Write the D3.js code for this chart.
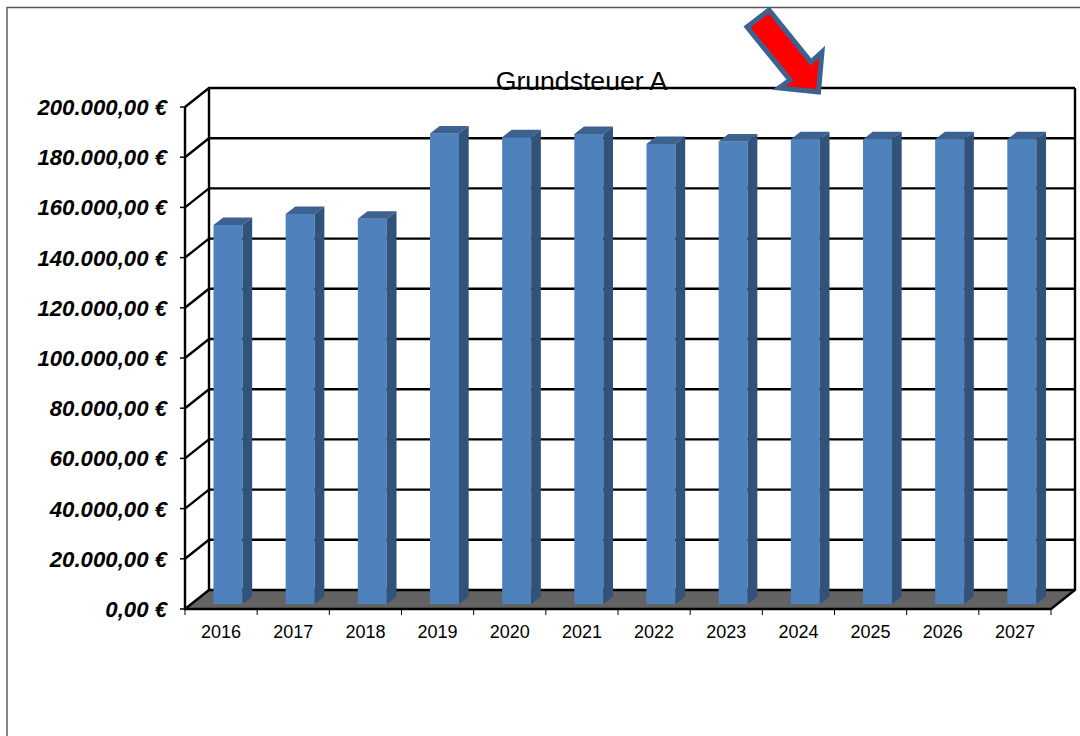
<!DOCTYPE html>
<html><head><meta charset="utf-8"><script src="https://cdn.jsdelivr.net/npm/d3@7"></script>
<style>html,body{margin:0;padding:0;background:#fff}svg{display:block}text{font-family:"Liberation Sans",Arial,sans-serif}</style></head>
<body><svg id="c" width="1080" height="736"></svg>
<script>
const years=["2016","2017","2018","2019","2020","2021","2022","2023","2024","2025","2026","2027"];
const values=[151000,155400,153500,187500,186000,187300,183300,184300,185200,185200,185200,185200];
const yTicks=[0,20000,40000,60000,80000,100000,120000,140000,160000,180000,200000];
const title="Grundsteuer A";
const depthX=24,depthY=19;
const svg=d3.select("#c");
const y=d3.scaleLinear().domain([0,200000]).range([609,107]);
const x=d3.scaleBand().domain(years).range([185,1051]);
const fmt=d3.formatLocale({decimal:",",thousands:".",grouping:[3],currency:["","\u00a0€"]}).format(",.2f");
svg.append("path").attr("d","M7,736V7.5H1080").attr("fill","none").attr("stroke","#555").attr("stroke-width",1.4);
svg.append("path").attr("d",`M${x.range()[0]},${y(0)}L${x.range()[0]+depthX},${y(0)-depthY}H${x.range()[1]+depthX}L${x.range()[1]},${y(0)}Z`).attr("fill","#636363");
const g=svg.append("g").attr("fill","none").attr("stroke","#000").attr("stroke-width",2.4);
yTicks.forEach(t=>{
  const yy=y(t);
  g.append("path").attr("d",`M${x.range()[0]},${yy}L${x.range()[0]+depthX},${yy-depthY}H${x.range()[1]+depthX}`);
  g.append("line").attr("x1",x.range()[0]-5).attr("x2",x.range()[0]).attr("y1",yy).attr("y2",yy).attr("stroke-width",1.5);
});
g.append("path").attr("d",`M${x.range()[0]},${y(200000)}V${y(0)}H${x.range()[1]}L${x.range()[1]+depthX},${y(0)-depthY}V${y(200000)-depthY}`);
g.append("path").attr("d",`M${x.range()[0]+depthX},${y(200000)-depthY}V${y(0)-depthY}`);
const xt=svg.append("g").attr("stroke","#000").attr("stroke-width",1);
[...years.map(d=>x(d)),x.range()[1]].forEach(v=>xt.append("line").attr("x1",v).attr("x2",v).attr("y1",y(0)).attr("y2",y(0)+6));
const barW=29,bx=9.7,by=7.5,inY=5;
const bars=svg.append("g").selectAll("g").data(years).join("g");
const left=d=>x(d)+x.bandwidth()/2-7.6;
const bot=()=>y(0)-inY;
const top_=(d,i)=>y(values[i])-inY;
bars.append("rect").attr("x",d=>left(d)).attr("y",top_).attr("width",barW).attr("height",(d,i)=>bot()-top_(d,i)).attr("fill","#4f81bd");
bars.append("path").attr("d",(d,i)=>{const l=left(d),t=top_(d,i);return `M${l},${t}l${bx},${-by}h${barW}l${-bx},${by}Z`}).attr("fill","#3c6290");
bars.append("path").attr("d",(d,i)=>{const r=left(d)+barW,t=top_(d,i);return `M${r},${t}l${bx},${-by}V${bot()-by}l${-bx},${by}Z`}).attr("fill","#325379");
svg.append("g").selectAll("text").data(yTicks).join("text")
 .attr("x",167).attr("y",d=>y(d)+8).attr("text-anchor","end")
 .attr("font-size",22.2).attr("font-weight","bold").attr("font-style","italic").text(d=>fmt(d)+" €");
svg.append("g").selectAll("text").data(years).join("text")
 .attr("x",d=>x(d)+x.bandwidth()/2).attr("y",638).attr("text-anchor","middle").attr("font-size",18).text(d=>d);
svg.append("text").attr("x",581.5).attr("y",90).attr("text-anchor","middle").attr("font-size",26.6).text(title);
svg.append("path").attr("d","M769,10L747,27L790,80L779,88L818.5,92L822,52L811,62Z").attr("fill","#ff0000").attr("stroke","#3c6290").attr("stroke-width",5).attr("stroke-linejoin","miter");
</script></body></html>
